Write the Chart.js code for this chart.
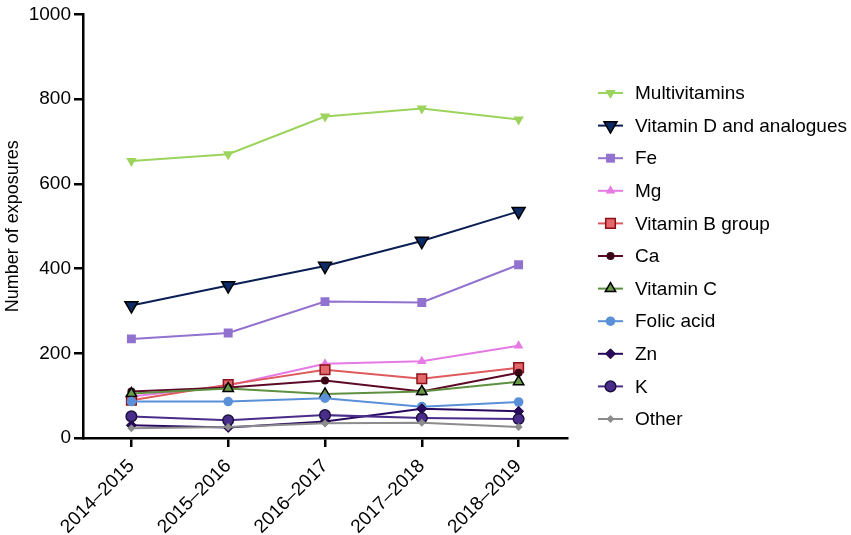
<!DOCTYPE html>
<html lang="en">
<head>
    <meta charset="UTF-8">
    <title>Number of exposures</title>
    <script src="https://cdn.jsdelivr.net/npm/chart.js"></script>
    <style>
        html, body { margin: 0; padding: 0; background: #fff; }
        .chart-box { width: 851px; height: 535px; position: relative; }
    </style>
</head>
<body>
    <div class="chart-box">
        <canvas id="exposureChart"></canvas>
    </div>

    <script>
        // data
        const categories = ['2014\u20132015', '2015\u20132016', '2016\u20132017', '2017\u20132018', '2018\u20132019'];
        const yTicks = [0, 200, 400, 600, 800, 1000];

        const seriesNames = ['Multivitamins', 'Vitamin D and analogues', 'Fe', 'Mg', 'Vitamin B group',
                             'Ca', 'Vitamin C', 'Folic acid', 'Zn', 'K', 'Other'];

        const multivitamins = [654, 670, 759, 778, 752];
        const vitaminD      = [313, 360, 406, 465, 535];
        const fe            = [234, 248, 322, 320, 409];
        const mg            = [98, 124, 175, 181, 218];
        const vitaminB      = [89, 126, 161, 140, 166];
        const ca            = [110, 119, 136, 110, 154];
        const vitaminC      = [105, 117, 104, 110, 133];
        const folicAcid     = [86, 86, 94, 74, 85];
        const zn            = [30, 25, 39, 69, 63];
        const k             = [51, 42, 54, 47, 45];
        const other         = [23, 26, 35, 36, 26];

        const seriesValues = [multivitamins, vitaminD, fe, mg, vitaminB, ca, vitaminC, folicAcid, zn, k, other];

        // look of each series: line colour, marker fill, marker border
        const styles = [
            { line: '#9bd35c', fill: '#9bd35c', border: '#9bd35c', shape: 'triangle', rot: 180, r: 6,   bw: 0 },
            { line: '#0c1f55', fill: '#0c2a66', border: '#000000', shape: 'triangle', rot: 180, r: 7.5, bw: 1.5 },
            { line: '#9272cf', fill: '#9272cf', border: '#9272cf', shape: 'rect',     rot: 0,   r: 6.3, bw: 0 },
            { line: '#e57ae5', fill: '#e57ae5', border: '#e57ae5', shape: 'triangle', rot: 0,   r: 5.5, bw: 0 },
            { line: '#df5a5e', fill: '#e2686c', border: '#8c1018', shape: 'rect',     rot: 0,   r: 6.8, bw: 1.5 },
            { line: '#5c0a25', fill: '#3a0616', border: '#3a0616', shape: 'circle',   rot: 0,   r: 4,   bw: 0 },
            { line: '#5e9040', fill: '#6a9a48', border: '#000000', shape: 'triangle', rot: 0,   r: 6,   bw: 1.5 },
            { line: '#5a90d8', fill: '#5a90d8', border: '#5a90d8', shape: 'circle',   rot: 0,   r: 4.8, bw: 0 },
            { line: '#2a0a60', fill: '#2a0a60', border: '#14052e', shape: 'rectRot',  rot: 0,   r: 5,   bw: 1 },
            { line: '#4a2c8a', fill: '#4a2c8a', border: '#1e1240', shape: 'circle',   rot: 0,   r: 5.3, bw: 1.5 },
            { line: '#8c8c8c', fill: '#8c8c8c', border: '#8c8c8c', shape: 'rectRot',  rot: 0,   r: 4,   bw: 0 }
        ];

        const FONT = '"Liberation Sans", Arial, sans-serif';

        const datasets = seriesNames.map((name, i) => ({
            label: name,
            data: seriesValues[i],
            borderColor: styles[i].line,
            borderWidth: 2,
            backgroundColor: styles[i].fill,
            pointBackgroundColor: styles[i].fill,
            pointBorderColor: styles[i].border,
            pointBorderWidth: styles[i].bw,
            pointStyle: styles[i].shape,
            pointRotation: styles[i].rot,
            pointRadius: styles[i].r,
            pointHoverRadius: styles[i].r,
            tension: 0,
            fill: false,
            // later series sit on top, as in the original
            order: seriesNames.length - i
        }));

        // legend drawn by hand: short line with the marker on it, then the name
        const sideLegend = {
            id: 'sideLegend',
            afterDraw(chart) {
                const ctx = chart.ctx;
                const x0 = 598, x1 = 623, textX = 635;
                const top = 93, step = 32.6;
                ctx.save();
                seriesNames.forEach((name, i) => {
                    const s = styles[i];
                    const y = top + i * step;
                    ctx.strokeStyle = s.line;
                    ctx.lineWidth = 2;
                    ctx.beginPath();
                    ctx.moveTo(x0, y);
                    ctx.lineTo(x1, y);
                    ctx.stroke();

                    ctx.fillStyle = s.fill;
                    ctx.strokeStyle = s.border;
                    ctx.lineWidth = s.bw;
                    Chart.helpers.drawPoint(ctx, {
                        pointStyle: s.shape,
                        rotation: s.rot,
                        radius: s.r,
                        borderWidth: s.bw
                    }, (x0 + x1) / 2, y);

                    ctx.fillStyle = '#000';
                    ctx.font = '19px ' + FONT;
                    ctx.textBaseline = 'middle';
                    ctx.textAlign = 'left';
                    ctx.fillText(name, textX, y + 1);
                });
                ctx.restore();
            }
        };

        new Chart(document.getElementById('exposureChart'), {
            type: 'line',
            data: { labels: categories, datasets: datasets },
            plugins: [sideLegend],
            options: {
                responsive: true,
                maintainAspectRatio: false,
                animation: false,
                layout: { padding: { top: 11, right: 284, left: 0, bottom: 0 } },
                plugins: {
                    legend: { display: false },
                    tooltip: { enabled: false }
                },
                scales: {
                    x: {
                        type: 'category',
                        offset: true,
                        afterFit(scale) { scale.height = 97; },
                        border: { color: '#000', width: 2.5 },
                        grid: {
                            offset: false,
                            drawOnChartArea: false,
                            drawTicks: true,
                            tickLength: 9,
                            color: '#000',
                            lineWidth: 2.5
                        },
                        ticks: {
                            color: '#000',
                            font: { family: FONT, size: 19 },
                            minRotation: 45,
                            maxRotation: 45,
                            padding: 8
                        }
                    },
                    y: {
                        min: 0,
                        max: 1000,
                        afterFit(scale) { scale.width = 83; },
                        afterBuildTicks(scale) { scale.ticks = yTicks.map(v => ({ value: v })); },
                        border: { color: '#000', width: 2.5 },
                        grid: {
                            drawOnChartArea: false,
                            drawTicks: true,
                            tickLength: 9,
                            color: '#000',
                            lineWidth: 2.5
                        },
                        ticks: {
                            color: '#000',
                            font: { family: FONT, size: 19 },
                            padding: 3,
                            callback: v => String(v)
                        },
                        title: {
                            display: true,
                            text: 'Number of exposures',
                            color: '#000',
                            font: { family: FONT, size: 18 },
                            padding: { top: 2, bottom: 0 }
                        }
                    }
                }
            }
        });
    </script>
</body>
</html>
